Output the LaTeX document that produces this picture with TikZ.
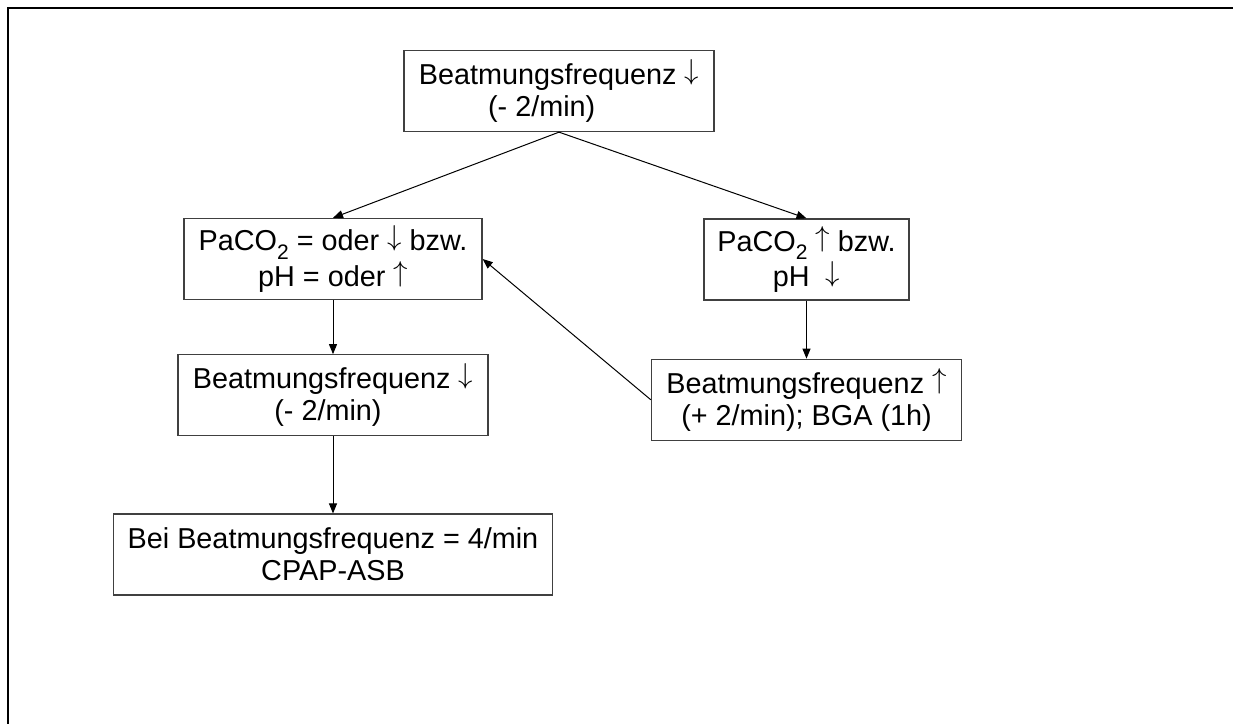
\documentclass[tikz,border=0pt]{standalone}
\usepackage{fontspec}
\setmainfont{Liberation Sans}
\usetikzlibrary{arrows.meta,positioning}
\newcommand\runter{\raisebox{0.17em}{$\downarrow$}}
\newcommand\rauf{\raisebox{0.17em}{$\uparrow$}}
\newcommand\zwei{\raisebox{-0.3em}{\fontsize{10.5}{11}\selectfont 2}}

\begin{document}
\begin{tikzpicture}[x=0.5pt, y=-0.5pt, >={Triangle[length=5pt,width=4pt]},
    font=\fontsize{14.4}{16}\selectfont,
    kasten/.style={draw=black!75, line width=0.65pt, align=center, minimum height=40.5pt, inner sep=2pt},
    pfeil/.style={->, line width=0.5pt}]
    \useasboundingbox (0,0) rectangle (1233,724);
    \draw[line width=1pt] (1233,7.5) -- (7.5,7.5) -- (7.5,724);
    \node[kasten, minimum width=155pt] (top) at (559,91) {Beatmungsfrequenz \runter\\(- 2/min)\hspace*{1.2em}};
    \node[kasten, minimum width=149pt] (lmid) at (333,259) {PaCO\zwei{} = oder \runter{} bzw.\\pH = oder \rauf};
    \node[kasten, minimum width=102.5pt] (rmid) at (806.5,259.5) {PaCO\zwei{} \rauf{} bzw.\\pH~~\runter};
    \node[kasten, minimum width=155pt, below=27pt of lmid] (llow) {Beatmungsfrequenz \runter\\(- 2/min)\hspace*{0.35em}};
    \node[kasten, minimum width=155pt, below=29pt of rmid] (rlow) {Beatmungsfrequenz \rauf\\(+ 2/min); BGA (1h)};
    \node[kasten, minimum width=219.5pt, below=38.5pt of llow] (bei) {Bei Beatmungsfrequenz = 4/min\\CPAP-ASB};
    \draw[pfeil] (top.south) -- (lmid.north);
    \draw[pfeil] (top.south) -- (rmid.north);
    \draw[pfeil] (lmid) -- (llow);
    \draw[pfeil] (llow) -- (bei);
    \draw[pfeil] (rmid) -- (rlow);
    \draw[pfeil] (rlow.west) -- (lmid.east);
\end{tikzpicture}
\end{document}
